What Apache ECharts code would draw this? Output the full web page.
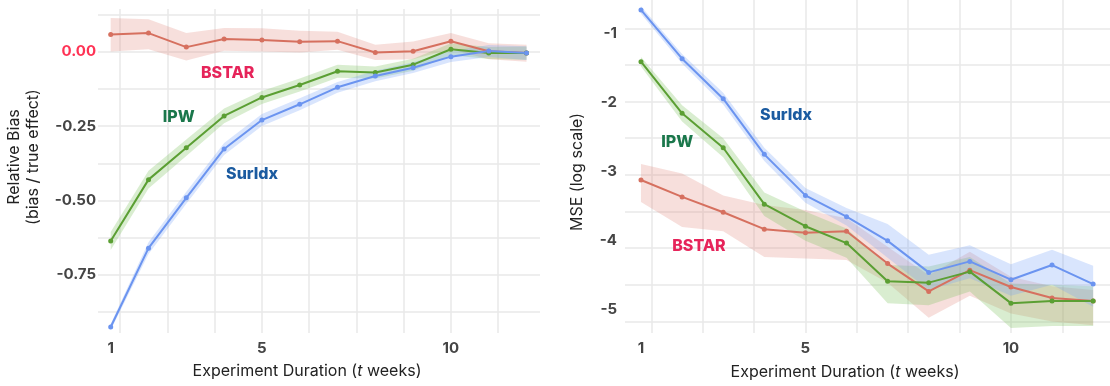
<!DOCTYPE html>
<html>
<head>
<meta charset="utf-8">
<script src="https://cdn.jsdelivr.net/npm/echarts@6/dist/echarts.min.js"></script>
<style>
html,body{margin:0;padding:0;background:#fff;}
#chart{width:1110px;height:386px;}
</style>
</head>
<body>
<div id="chart"></div>
<script>
// ---------- data ----------
const weeks = [1,2,3,4,5,6,7,8,9,10,11,12];

// Left panel: relative bias
const biasBSTAR  = [0.057, 0.062, 0.015, 0.042, 0.039, 0.033, 0.035, -0.003, 0.001, 0.035, 0.001, -0.005];
const biasBSTARlo= [0.000, 0.008, -0.030, 0.003, 0.000, -0.003, 0.006, -0.028, -0.026, 0.008, -0.026, -0.034];
const biasBSTARhi= [0.113, 0.109, 0.062, 0.079, 0.078, 0.070, 0.067, 0.023, 0.034, 0.062, 0.028, 0.023];

const biasIPW    = [-0.636, -0.430, -0.323, -0.216, -0.154, -0.112, -0.066, -0.070, -0.044, 0.008, -0.005, -0.005];
const biasIPWlo  = [-0.666, -0.460, -0.351, -0.241, -0.176, -0.134, -0.088, -0.090, -0.064, -0.012, -0.025, -0.027];
const biasIPWhi  = [-0.606, -0.400, -0.295, -0.191, -0.132, -0.090, -0.044, -0.050, -0.024, 0.028, 0.015, 0.017];

const biasSurIdx   = [-0.925, -0.660, -0.491, -0.327, -0.230, -0.177, -0.120, -0.082, -0.054, -0.017, 0.002, -0.005];
const biasSurIdxlo = [-0.935, -0.680, -0.511, -0.347, -0.250, -0.197, -0.138, -0.100, -0.072, -0.035, -0.018, -0.028];
const biasSurIdxhi = [-0.915, -0.640, -0.471, -0.307, -0.210, -0.157, -0.102, -0.064, -0.036, 0.001, 0.022, 0.018];

// Right panel: MSE (log scale)
const mseSurIdx   = [-0.75, -1.415, -1.96, -2.72, -3.28, -3.57, -3.90, -4.33, -4.18, -4.43, -4.23, -4.49];
const mseSurIdxlo = [-0.80, -1.48, -2.04, -2.81, -3.38, -3.69, -4.13, -4.57, -4.41, -4.65, -4.50, -4.80];
const mseSurIdxhi = [-0.70, -1.35, -1.88, -2.63, -3.18, -3.45, -3.67, -4.09, -3.96, -4.22, -4.02, -4.24];

const mseIPW   = [-1.455, -2.16, -2.63, -3.40, -3.70, -3.93, -4.45, -4.47, -4.32, -4.75, -4.72, -4.72];
const mseIPWlo = [-1.52, -2.27, -2.76, -3.56, -3.90, -4.13, -4.75, -4.78, -4.59, -5.09, -5.06, -5.06];
const mseIPWhi = [-1.39, -2.05, -2.50, -3.24, -3.50, -3.73, -4.23, -4.25, -4.12, -4.48, -4.50, -4.52];

const mseBSTAR   = [-3.07, -3.30, -3.51, -3.74, -3.79, -3.77, -4.21, -4.59, -4.30, -4.53, -4.68, -4.72];
const mseBSTARlo = [-3.37, -3.71, -3.77, -4.12, -4.14, -4.16, -4.47, -4.95, -4.65, -4.89, -5.00, -5.05];
const mseBSTARhi = [-2.85, -2.98, -3.28, -3.41, -3.48, -3.59, -3.98, -4.37, -4.05, -4.39, -4.52, -4.57];

// ticks / gridlines
const xTickLabels   = [1, 5, 10];
const xGridValues   = [1.25, 2.5, 3.75, 5, 6.25, 7.5, 8.75, 10, 11.25, 12.5];
const biasTickLabels= [0, -0.25, -0.5, -0.75];
const biasGridValues= [0.125, 0, -0.125, -0.25, -0.375, -0.5, -0.625, -0.75, -0.875];
const mseTickLabels = [-1, -2, -3, -4, -5];
const mseGridValues = [-1, -1.5, -2, -2.5, -3, -3.5, -4, -4.5, -5];

// annotation positions (data coords) and names
const methodNames = ['BSTAR', 'IPW', 'SurIdx'];
const biasLabelPos = [[4.095, -0.071], [2.80, -0.221], [4.74, -0.413]];
const mseLabelPos  = [[2.41, -3.97], [1.88, -2.56], [4.53, -2.18]];

// ---------- styles ----------
const lineColors  = {BSTAR:'#d6705f', IPW:'#5b9f33', SurIdx:'#6b94f0'};
const bandColors  = {BSTAR:'rgba(226,140,128,0.28)', IPW:'rgba(130,196,100,0.30)', SurIdx:'rgba(120,160,248,0.28)'};
const textColors  = {BSTAR:'#e6245a', IPW:'#1a774b', SurIdx:'#1b5ba0'};
const FONT = 'Inter, "Noto Sans", sans-serif';
const gridColor = '#e8e8e8';

function zip(xs, ys){ return xs.map((x,i)=>[x, ys[i]]); }

function band(name, xi, yi, lo, hi){
  return {
    type:'custom', name: name+' band', xAxisIndex:xi, yAxisIndex:yi, silent:true, z:1, clip:true,
    data: weeks.map((x,i)=>[x, lo[i], hi[i]]),
    encode:{x:0, y:[1,2]},
    renderItem: function(params, api){
      if (params.dataIndex !== 0) return;
      const pts = [];
      for (let i=0;i<weeks.length;i++) pts.push(api.coord([weeks[i], hi[i]]));
      for (let i=weeks.length-1;i>=0;i--) pts.push(api.coord([weeks[i], lo[i]]));
      return {type:'polygon', shape:{points:pts}, style:{fill:bandColors[name]}};
    }
  };
}
function line(name, xi, yi, ys){
  return {
    type:'line', name:name, xAxisIndex:xi, yAxisIndex:yi, z:3,
    data: zip(weeks, ys), symbol:'circle', symbolSize:5, showSymbol:true,
    lineStyle:{color:lineColors[name], width:2}, itemStyle:{color:lineColors[name]},
    silent:true, animation:false
  };
}
function annot(xi, yi, pos){
  return {
    type:'scatter', xAxisIndex:xi, yAxisIndex:yi, z:5, silent:true, symbolSize:1,
    itemStyle:{color:'rgba(0,0,0,0)', opacity:1},
    data: pos.map((p,i)=>({value:p, name:methodNames[i],
      label:{show:true, position:'inside', formatter:methodNames[i], textBorderWidth:0,
             color:textColors[methodNames[i]], fontFamily:FONT, fontWeight:800, fontSize:16}}))
  };
}

const tickLabelStyle = {fontFamily:FONT, fontWeight:700, fontSize:15, color:'#454545'};

const option = {
  backgroundColor:'#fff',
  animation:false,
  grid:[
    {left:98, width:442, top:9, height:324},
    {left:625, right:0, top:0, height:333}
  ],
  xAxis:[
    {type:'value', gridIndex:0, min:0.664, max:12.357,
     axisLine:{show:false},
     axisTick:{show:false, customValues:xGridValues},
     axisLabel:Object.assign({customValues:xTickLabels, margin:8}, tickLabelStyle),
     splitLine:{show:true, lineStyle:{color:gridColor, width:1.5}}},
    {type:'value', gridIndex:1, min:0.611, max:12.41,
     axisLine:{show:false},
     axisTick:{show:false, customValues:xGridValues},
     axisLabel:Object.assign({customValues:xTickLabels, margin:8}, tickLabelStyle),
     splitLine:{show:true, lineStyle:{color:gridColor, width:1.5}}}
  ],
  yAxis:[
    {type:'value', gridIndex:0, min:-0.945, max:0.143,
     axisLine:{show:false},
     axisTick:{show:false, customValues:biasGridValues},
     axisLabel:Object.assign({}, tickLabelStyle, {customValues:biasTickLabels, margin:2,
        formatter:v=>Number(v).toFixed(2),
        color:v=>(Number(v)===0 ? '#ff3355' : '#454545')}),
     splitLine:{show:true, lineStyle:{color:gridColor, width:1.5}}},
    {type:'value', gridIndex:1, min:-5.157, max:-0.614,
     axisLine:{show:false},
     axisTick:{show:false, customValues:mseGridValues},
     axisLabel:{show:false},
     splitLine:{show:true, lineStyle:{color:gridColor, width:1.5}}},
    {type:'value', gridIndex:1, min:-5.343, max:-0.517, position:'left',
     axisLine:{show:false},
     axisTick:{show:false, customValues:mseTickLabels},
     axisLabel:Object.assign({customValues:mseTickLabels, margin:8}, tickLabelStyle),
     splitLine:{show:false}}
  ],
  graphic:[
    {type:'text', x:24, y:157, rotation:Math.PI/2,
     style:{text:'Relative Bias\n(bias / true effect)', fill:'#222', font:'16px '+FONT,
            align:'center', verticalAlign:'middle', lineHeight:19}},
    {type:'text', x:577, y:172, rotation:Math.PI/2,
     style:{text:'MSE (log scale)', fill:'#222', font:'16px '+FONT,
            align:'center', verticalAlign:'middle'}},
    {type:'text', x:307, y:371,
     style:{text:'Experiment Duration ({i|t} weeks)', fill:'#222', font:'16px '+FONT,
            align:'center', verticalAlign:'middle',
            rich:{i:{fontStyle:'italic', fontSize:16, fontFamily:FONT, fill:'#222'}}}},
    {type:'text', x:845, y:372,
     style:{text:'Experiment Duration ({i|t} weeks)', fill:'#222', font:'16px '+FONT,
            align:'center', verticalAlign:'middle',
            rich:{i:{fontStyle:'italic', fontSize:16, fontFamily:FONT, fill:'#222'}}}}
  ],
  series:[
    band('BSTAR',0,0,biasBSTARlo,biasBSTARhi),
    band('IPW',0,0,biasIPWlo,biasIPWhi),
    band('SurIdx',0,0,biasSurIdxlo,biasSurIdxhi),
    line('BSTAR',0,0,biasBSTAR),
    line('IPW',0,0,biasIPW),
    line('SurIdx',0,0,biasSurIdx),
    annot(0,0,biasLabelPos),
    band('BSTAR',1,1,mseBSTARlo,mseBSTARhi),
    band('IPW',1,1,mseIPWlo,mseIPWhi),
    band('SurIdx',1,1,mseSurIdxlo,mseSurIdxhi),
    line('BSTAR',1,1,mseBSTAR),
    line('IPW',1,1,mseIPW),
    line('SurIdx',1,1,mseSurIdx),
    annot(1,1,mseLabelPos)
  ]
};

const chart = echarts.init(document.getElementById('chart'), null, {renderer:'canvas'});
chart.setOption(option);
</script>
</body>
</html>
